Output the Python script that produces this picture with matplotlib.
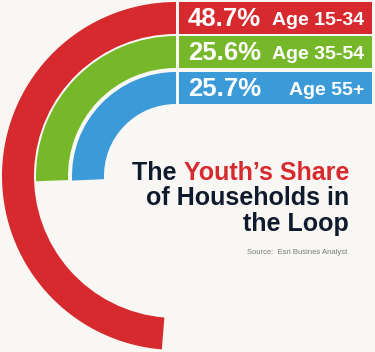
import matplotlib.pyplot as plt
from matplotlib.patches import Wedge

# shares of households in the Loop by age group
groups = ["Age 15-34", "Age 35-54", "Age 55+"]
shares = [48.7, 25.6, 25.7]
share_labels = ["48.7%", "25.6%", "25.7%"]
colors = ["#d62a2f", "#77b82b", "#3a9bd8"]

plt.rcParams['font.family'] = ['Liberation Sans', 'DejaVu Sans']

fig = plt.figure(figsize=(3.75, 3.52), dpi=100)
fig.patch.set_facecolor("#f8f7f4")
ax = fig.add_axes([0, 0, 1, 1])
ax.set_xlim(0, 375)
ax.set_ylim(0, 352)
ax.set_aspect('equal')
ax.axis('off')

# ring layout (pixel units)
cx, cy = 176, 176
outer = [174, 140, 104]
ring_w = 32
bar_left, bar_right = 179, 372

for share, r, col in zip(shares, outer, colors):
    # sweep goes counter-clockwise from the top
    ax.add_patch(Wedge((cx, cy), r, 90, 90 + share * 3.6, width=ring_w,
                       facecolor=col, edgecolor='none'))

ycent = [cy + r - ring_w / 2 for r in outer]
ax.barh(ycent, bar_right - bar_left, left=bar_left, height=ring_w,
        color=colors, edgecolor='none')

for y, pct, grp in zip(ycent, share_labels, groups):
    ax.text(188, y - 8.5, pct, color='white', fontsize=18.5,
            fontweight='bold', ha='left', va='baseline')
    ax.text(364, y - 7, grp, color='white', fontsize=14,
            fontweight='bold', ha='right', va='baseline')

# title, with the red part on the first line
dark = "#0f1a2c"
red_part = ax.text(349, 172, "Youth\u2019s Share", color=colors[0],
                   fontsize=18, fontweight='bold', ha='right', va='baseline')
ax.annotate("The ", xy=(0, 0), xycoords=red_part, color=dark,
            fontsize=18, fontweight='bold', ha='right', va='bottom')
ax.text(349, 147, "of Households in", color=dark, fontsize=18,
        fontweight='bold', ha='right', va='baseline')
ax.text(349, 121, "the Loop", color=dark, fontsize=18,
        fontweight='bold', ha='right', va='baseline')

ax.text(347, 98, "Source:  Esri Busines Analyst", color="#7a7a7a",
        fontsize=5.5, ha='right', va='baseline')

fig.savefig("out.png", dpi=100, facecolor=fig.get_facecolor())
